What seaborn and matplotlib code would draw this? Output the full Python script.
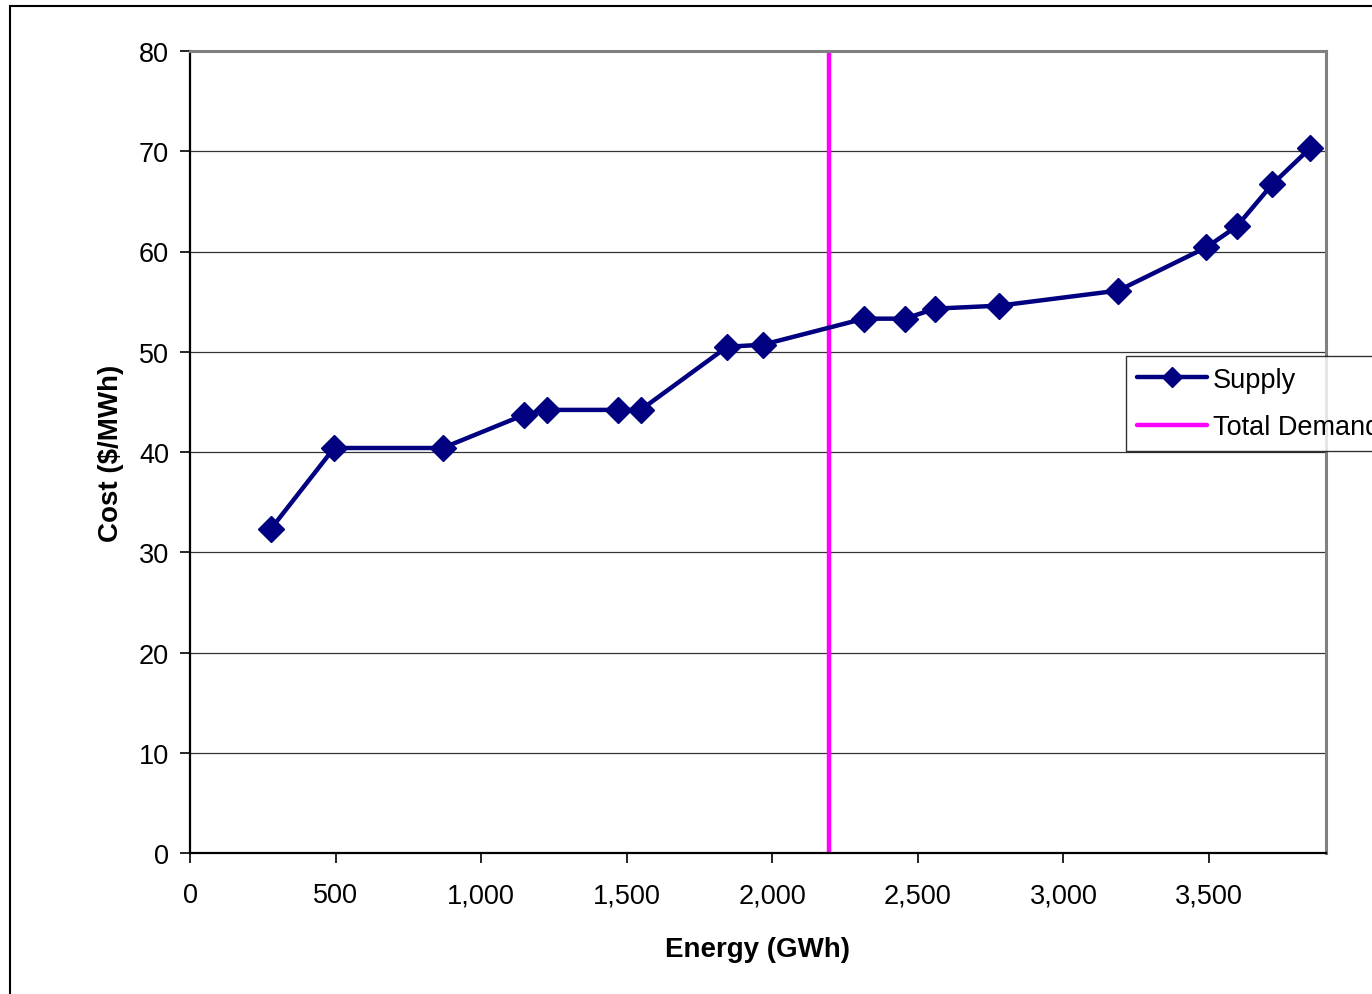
import matplotlib
matplotlib.use("Agg")
import matplotlib.pyplot as plt
import matplotlib.patches as mpatches
import seaborn as sns
import pandas as pd

energy = [277, 495, 868, 1147, 1225, 1470, 1548, 1845, 1967, 2315, 2456, 2559,
          2780, 3188, 3490, 3595, 3717, 3847]
cost = [32.3, 40.4, 40.4, 43.7, 44.2, 44.2, 44.2, 50.5, 50.7, 53.3, 53.3, 54.3,
        54.6, 56.1, 60.4, 62.5, 66.7, 70.3]
demand = 2196
x_ticks = [0, 500, 1000, 1500, 2000, 2500, 3000, 3500]
x_labels = ["0", "500", "1,000", "1,500", "2,000", "2,500", "3,000", "3,500"]
y_ticks = [0, 10, 20, 30, 40, 50, 60, 70, 80]

sns.set_theme(style="white")
plt.rcParams['font.family'] = ['Liberation Sans', 'DejaVu Sans']
plt.rcParams['text.color'] = 'black'
plt.rcParams['axes.labelcolor'] = 'black'
plt.rcParams['xtick.color'] = 'black'
plt.rcParams['ytick.color'] = 'black'

W, H = 1372, 995
fig = plt.figure(figsize=(W / 100, H / 100), dpi=100)
ax = fig.add_axes([190 / W, 1 - 854 / H, (1325.5 - 190) / W, (854 - 52) / H])

df = pd.DataFrame({"Energy": energy, "Cost": cost})
sns.lineplot(data=df, x="Energy", y="Cost", ax=ax, color="#000080", linewidth=3.2,
             marker="D", markersize=13, markeredgecolor="#000080", markeredgewidth=1,
             label="Supply", zorder=3)
ax.axvline(demand, color="#FF00FF", linewidth=3.2, label="Total Demand", zorder=2)

ax.set_xlim(0, 3900)
ax.set_ylim(0, 80)
ax.set_xticks(x_ticks)
ax.set_xticklabels(x_labels)
ax.set_yticks(y_ticks)
ax.tick_params(axis="both", labelsize=19.5, colors="black", direction="out",
               length=7, width=1.2)
ax.tick_params(axis="x", pad=14, bottom=True)
ax.tick_params(axis="y", pad=8, left=True)

ax.yaxis.grid(True, color="#333333", linewidth=0.9)
ax.xaxis.grid(False)
for s in ["left", "bottom"]:
    ax.spines[s].set_color("black")
    ax.spines[s].set_linewidth(1.6)
for s in ["top", "right"]:
    ax.spines[s].set_color("#808080")
    ax.spines[s].set_linewidth(2.2)

ax.set_xlabel("Energy (GWh)", fontsize=20, fontweight="bold", labelpad=20)
ax.set_ylabel("Cost (\\$/MWh)", fontsize=20, fontweight="bold", labelpad=11)

if ax.get_legend():
    ax.get_legend().remove()
handles, labels = ax.get_legend_handles_labels()
leg = fig.legend(handles, labels, loc="upper left",
                 bbox_to_anchor=(1126 / W, 1 - 357 / H), borderaxespad=0,
                 fontsize=19.5, frameon=True, fancybox=False, edgecolor="black",
                 handlelength=2.6, handletextpad=0.2, labelspacing=0.8,
                 borderpad=0.4, markerscale=0.75)
leg.get_frame().set_linewidth(1.0)
for t in leg.get_texts():
    t.set_color("black")

fig.patches.append(mpatches.Rectangle((10 / W, -0.1), 1.2, 1 - 7 / H + 0.1,
                                      transform=fig.transFigure, fill=False,
                                      edgecolor="black", linewidth=1.5))

fig.savefig("out.png", dpi=100)
